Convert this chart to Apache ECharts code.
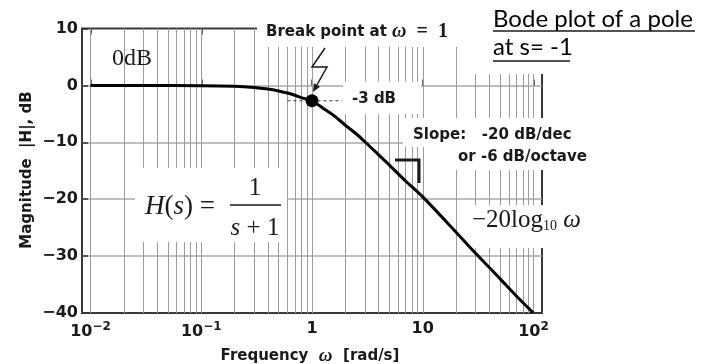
<!DOCTYPE html>
<html>
<head>
<meta charset="utf-8">
<script src="https://cdn.jsdelivr.net/npm/echarts@6/dist/echarts.min.js"></script>
<style>
  html, body { margin: 0; padding: 0; background: #fff; }
  #chart { width: 711px; height: 364px; }
</style>
</head>
<body>
<div id="chart"></div>
<script>
// values
const freq = [0.01, 0.03, 0.1, 0.2, 0.3, 0.4, 0.5, 0.6, 0.7, 0.8, 1, 1.3, 1.6, 2, 2.5, 3, 4, 5, 7, 10, 20, 30, 50, 70, 100];
const magDb = [0, 0, -0.04, -0.17, -0.37, -0.64, -0.97, -1.34, -1.73, -2.15, -2.7, -4.2, -5.4, -7.0, -8.5, -9.9, -12.2, -14.0, -16.8, -19.6, -25.8, -29.5, -34.0, -37.0, -40];
const breakPoint = [1, -2.7];
const dashFreq = [0.6, 1.87];
const decades = [0.01, 0.1, 1, 10, 100];
const minorFreqs = [0.02, 0.03, 0.04, 0.05, 0.06, 0.07, 0.08, 0.09,
  0.2, 0.3, 0.4, 0.5, 0.6, 0.7, 0.8, 0.9,
  2, 3, 4, 5, 6, 7, 8, 9,
  20, 30, 40, 50, 60, 70, 80, 90];
const yMin = -40, yMax = 10, yStep = 10;

const SANS = "DejaVu Sans";
const SERIF = "Liberation Serif";
const INK = "#1a1a1a";

function xLabel(v) {
  const p = Math.round(Math.log10(v));
  if (p === 0) return "1";
  if (p === 1) return "10";
  return "10{sup|" + (p < 0 ? "\u2212" + (-p) : p) + "}";
}
function yLabel(v) {
  return v < 0 ? "\u2212" + Math.abs(v) : String(v);
}

// white boxes the original labels sat on (they hide grid lines)
const boxes = [
  [257, 0, 215, 47],
  [472, 0, 239, 74],
  [343, 82, 78, 32],
  [403, 118, 200, 29],
  [448, 147, 155, 23],
  [135, 168, 152, 74],
  [465, 205, 135, 43],
];

function txt(x, y, text, style, extra) {
  return Object.assign({
    type: "text", x, y, z: 20, silent: true,
    style: Object.assign({ text, fill: INK, verticalAlign: "middle" }, style),
  }, extra || {});
}
function seg(points, width, z) {
  return {
    type: "polyline", z: z || 20, silent: true,
    shape: { points },
    style: { stroke: INK, lineWidth: width, fill: null },
  };
}

const chart = echarts.init(document.getElementById("chart"), null, { renderer: "canvas" });

const graphic = boxes.map((b) => ({
  type: "rect", z: 3, silent: true,
  shape: { x: b[0], y: b[1], width: b[2], height: b[3] },
  style: { fill: "#fff" },
}));

graphic.push(
  txt(266, 32, "{a|Break point at }{w|\u03c9}{b|  =  1}", {
    rich: {
      a: { fontFamily: SANS, fontWeight: "bold", fontSize: 15, fill: INK },
      w: { fontFamily: SERIF, fontStyle: "italic", fontWeight: "bold", fontSize: 20, fill: INK },
      b: { fontFamily: SERIF, fontWeight: "bold", fontSize: 20, fill: INK },
    },
  }),
  txt(112, 59, "0dB", { fontFamily: SERIF, fontSize: 24 }),
  txt(352, 99, "-3 dB", { fontFamily: SANS, fontWeight: "bold", fontSize: 15 }),
  txt(413, 135, "Slope:   -20 dB/dec", { fontFamily: SANS, fontWeight: "bold", fontSize: 15 }),
  txt(458, 157, "or -6 dB/octave", { fontFamily: SANS, fontWeight: "bold", fontSize: 15 }),
  txt(145, 207, "{i|H}{r|(}{i|s}{r|) =}", {
    rich: {
      i: { fontFamily: SERIF, fontStyle: "italic", fontSize: 27, fill: INK },
      r: { fontFamily: SERIF, fontSize: 27, fill: INK },
    },
  }),
  txt(255, 188, "1", { fontFamily: SERIF, fontSize: 25, align: "center" }),
  seg([[230, 205], [281, 205]], 1.5),
  txt(255, 228, "{i|s}{r| + 1}", {
    align: "center",
    rich: {
      i: { fontFamily: SERIF, fontStyle: "italic", fontSize: 25, fill: INK },
      r: { fontFamily: SERIF, fontSize: 25, fill: INK },
    },
  }),
  txt(472, 220, "{r|\u221220log}{s|10}{i| \u03c9}", {
    rich: {
      r: { fontFamily: SERIF, fontSize: 25, fill: INK },
      s: { fontFamily: SERIF, fontSize: 14, fill: INK, padding: [12, 0, 0, 0] },
      i: { fontFamily: SERIF, fontStyle: "italic", fontSize: 25, fill: INK },
    },
  }),
  txt(493, 19, "Bode plot of a pole", { fontFamily: "Lato", fontSize: 24, fill: "#000" }),
  txt(493, 47, "at s= -1", { fontFamily: "Lato", fontSize: 24, fill: "#000" }),
  seg([[493, 31], [695, 31]], 1.5),
  seg([[493, 61], [570, 61]], 1.5),
  // slope marker
  seg([[395, 160], [419, 160], [419, 183]], 3),
  // lightning arrow to the break point
  seg([[325, 48], [312, 67], [327, 67], [316.9, 85]], 1.5),
  {
    type: "polygon", z: 20, silent: true,
    shape: { points: [[313, 92], [320, 86.7], [313.9, 83.3]] },
    style: { fill: INK },
  },
  txt(310, 356, "{a|Frequency  }{w|\u03c9}{a|  [rad/s]}", {
    align: "center",
    rich: {
      a: { fontFamily: SANS, fontWeight: "bold", fontSize: 15, fill: INK },
      w: { fontFamily: SERIF, fontStyle: "italic", fontWeight: "bold", fontSize: 19, fill: INK },
    },
  }),
  txt(27, 170, "Magnitude  |H|, dB", {
    fontFamily: SANS, fontWeight: "bold", fontSize: 15, align: "center",
  }, { rotation: Math.PI / 2 })
);

const axisFont = { fontFamily: SANS, fontWeight: "bold", fontSize: 16, color: INK };

chart.setOption({
  animation: false,
  backgroundColor: "#fff",
  grid: [
    { left: 82, top: 28.5, width: 460, height: 284.5, show: true, borderColor: "#3a3a3a", borderWidth: 2, backgroundColor: "transparent" },
    { left: 90.5, top: 28.5, width: 443, height: 284.5 },
  ],
  xAxis: [
    { type: "value", gridIndex: 0, min: 0, max: 1, show: false },
    {
      type: "log", gridIndex: 1, min: 0.01, max: 100, logBase: 10,
      axisLine: { show: false },
      axisTick: { inside: true, length: 6, lineStyle: { color: "#333", width: 1.5 } },
      splitLine: { show: false },
      axisLabel: Object.assign({
        margin: 8, formatter: xLabel,
        rich: { sup: { fontFamily: SANS, fontWeight: "bold", fontSize: 12, color: INK, padding: [0, 0, 10, 0] } },
      }, axisFont),
    },
    {
      type: "log", gridIndex: 1, position: "top", min: 0.01, max: 100, logBase: 10,
      axisLine: { show: false },
      axisTick: { inside: true, length: 6, lineStyle: { color: "#333", width: 1.5 } },
      splitLine: { show: false },
      axisLabel: { show: false },
    },
  ],
  yAxis: [
    {
      type: "value", gridIndex: 0, min: yMin, max: yMax, interval: yStep,
      axisLine: { show: false },
      axisTick: { inside: true, length: 6, lineStyle: { color: "#333", width: 1.5 } },
      splitLine: { show: true, showMinLine: false, showMaxLine: false, lineStyle: { color: "#a8a8a8", width: 1.5 } },
      axisLabel: Object.assign({ margin: 4, formatter: yLabel }, axisFont),
    },
    { type: "value", gridIndex: 1, min: yMin, max: yMax, show: false },
  ],
  series: [
    {
      name: "|H|",
      type: "line",
      xAxisIndex: 1, yAxisIndex: 1,
      data: freq.map((f, i) => [f, magDb[i]]),
      showSymbol: false,
      smooth: 0.3,
      z: 10,
      lineStyle: { color: "#000", width: 3 },
      markLine: {
        z: 1, silent: true, symbol: ["none", "none"],
        label: { show: false },
        lineStyle: { color: "#9c9c9c", width: 1, type: "solid" },
        data: decades.concat(minorFreqs).map((f) => ({ xAxis: f })),
      },
    },
    {
      name: "-3 dB",
      type: "line",
      xAxisIndex: 1, yAxisIndex: 1,
      data: dashFreq.map((f) => [f, breakPoint[1]]),
      showSymbol: false,
      z: 9,
      lineStyle: { color: "#333", width: 1, type: [3, 3] },
    },
    {
      name: "break",
      type: "scatter",
      xAxisIndex: 1, yAxisIndex: 1,
      data: [breakPoint],
      symbolSize: 13,
      z: 11,
      itemStyle: { color: "#000", opacity: 1 },
    },
  ],
  graphic,
});
</script>
</body>
</html>
